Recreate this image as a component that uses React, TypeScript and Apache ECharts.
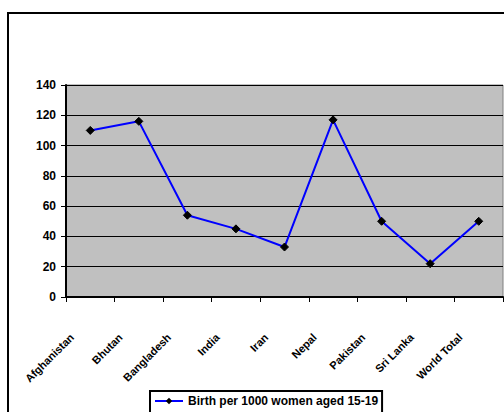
import React, { useEffect, useRef } from "react";
import * as echarts from "echarts";

const categories = ["Afghanistan", "Bhutan", "Bangladesh", "India", "Iran", "Nepal", "Pakistan", "Sri Lanka", "World Total"];
const births = [110, 116, 54, 45, 33, 117, 50, 22, 50];
const seriesName = "Birth per 1000 women aged 15-19";
const yTicks = { min: 0, max: 140, interval: 20 };

export default function App() {
  const ref = useRef<HTMLDivElement>(null);
  useEffect(() => {
    const chart = echarts.init(ref.current!, null, { renderer: "svg" });
    chart.setOption({
      animation: false,
      backgroundColor: "#ffffff",
      textStyle: { fontFamily: "Liberation Sans, Arial, sans-serif" },
      graphic: [
        {
          type: "rect",
          shape: { x: 8, y: 13, width: 520, height: 420 },
          style: { fill: "none", stroke: "#000", lineWidth: 2 },
          silent: true,
          z: -1,
        },
      ],
      grid: {
        left: 66,
        right: 1,
        top: 85,
        bottom: 115,
        show: true,
        backgroundColor: "#C0C0C0",
        borderColor: "#808080",
        borderWidth: 1,
      },
      legend: {
        data: [seriesName],
        left: 150,
        top: 391,
        itemWidth: 28,
        itemHeight: 8,
        itemGap: 4,
        padding: [4, 4, 20, 4],
        borderColor: "#000",
        borderWidth: 2,
        textStyle: { fontWeight: "bold", fontSize: 12, color: "#000", fontFamily: "Liberation Sans, Arial, sans-serif" },
      },
      xAxis: {
        type: "category",
        data: categories,
        boundaryGap: true,
        axisLine: { lineStyle: { color: "#000", width: 2 } },
        axisTick: { show: true, interval: 0, length: 5, lineStyle: { color: "#000", width: 1 } },
        axisLabel: {
          interval: 0,
          rotate: 45,
          margin: 20,
          padding: [0, 26, 0, 0],
          fontSize: 11,
          fontWeight: "bold",
          color: "#000",
          fontFamily: "Liberation Sans, Arial, sans-serif",
        },
        splitLine: { show: false },
      },
      yAxis: {
        type: "value",
        min: yTicks.min,
        max: yTicks.max,
        interval: yTicks.interval,
        axisLine: { show: true, lineStyle: { color: "#000", width: 2 } },
        axisTick: { show: true, length: 5, lineStyle: { color: "#000", width: 1 } },
        axisLabel: {
          margin: 10,
          fontSize: 12,
          fontWeight: "bold",
          color: "#000",
          fontFamily: "Liberation Sans, Arial, sans-serif",
        },
        splitLine: { show: true, lineStyle: { color: "#000", width: 1 } },
      },
      series: [
        {
          name: seriesName,
          type: "line",
          data: births,
          symbol: "diamond",
          symbolSize: 8,
          itemStyle: { color: "#000", borderColor: "#000" },
          lineStyle: { color: "#0000FF", width: 2 },
          z: 5,
        },
      ],
    });
    return () => chart.dispose();
  }, []);
  return <div ref={ref} style={{ position: "fixed", left: 0, top: 0, width: 504, height: 412 }} />;
}
